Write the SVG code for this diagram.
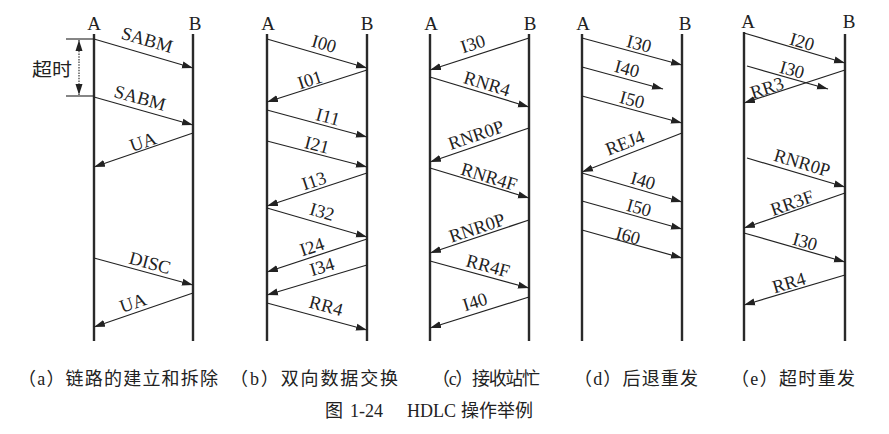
<svg xmlns="http://www.w3.org/2000/svg" width="889" height="434" viewBox="0 0 889 434">
<defs>
<marker id="ah" markerUnits="userSpaceOnUse" markerWidth="11" markerHeight="8" refX="11" refY="3.5" orient="auto-start-reverse" viewBox="0 0 11 7"><path d="M0,0 L11,3.5 L0,7 Z" fill="#222"/></marker>
<style>
.life{stroke:#2a2a2a;stroke-width:2.4;fill:none}
.msg{stroke:#222;stroke-width:1.2;fill:none;marker-end:url(#ah)}
.lbl{font-family:"Liberation Serif",serif;font-size:18.5px;fill:#222;text-anchor:middle}
.hd{font-family:"Liberation Serif",serif;font-size:19px;fill:#222;text-anchor:middle}
.cap{font-family:"Liberation Serif","Noto Sans CJK SC",sans-serif;font-size:18px;fill:#222}
</style>
</defs>
<rect width="889" height="434" fill="#fff"/>

<g id="panel-a">
<line class="life" x1="94" y1="34" x2="94" y2="341"/>
<line class="life" x1="193" y1="34" x2="193" y2="341"/>
<text class="hd" x="94" y="30">A</text>
<text class="hd" x="195" y="30">B</text>
<g id="timeout">
<line x1="66" y1="39" x2="94" y2="39" stroke="#222" stroke-width="1.1"/>
<line x1="66" y1="96" x2="94" y2="96" stroke="#222" stroke-width="1.1"/>
<line x1="79" y1="40" x2="79" y2="95" stroke="#222" stroke-width="1.1" stroke-dasharray="1.5,1.2" marker-start="url(#ah)" marker-end="url(#ah)"/>
<text class="cap" x="32" y="76" textLength="40" lengthAdjust="spacingAndGlyphs">超时</text>
</g>
</g>

<g id="panel-b">
<line class="life" x1="267" y1="34" x2="267" y2="341"/>
<line class="life" x1="367" y1="34" x2="367" y2="341"/>
<text class="hd" x="268" y="30">A</text>
<text class="hd" x="367" y="30">B</text>
</g>

<g id="panel-c">
<line class="life" x1="430" y1="34" x2="430" y2="341"/>
<line class="life" x1="529" y1="34" x2="529" y2="341"/>
<text class="hd" x="431" y="30">A</text>
<text class="hd" x="530" y="30">B</text>
</g>

<g id="panel-d">
<line class="life" x1="582" y1="34" x2="582" y2="341"/>
<line class="life" x1="682" y1="34" x2="682" y2="341"/>
<text class="hd" x="583" y="30">A</text>
<text class="hd" x="685" y="30">B</text>
</g>

<g id="panel-e">
<line class="life" x1="744" y1="32" x2="744" y2="341"/>
<line class="life" x1="845" y1="34" x2="845" y2="341"/>
<text class="hd" x="748" y="28">A</text>
<text class="hd" x="849" y="28">B</text>
</g>

<g id="connectors">
<!-- a -->
<line class="msg" x1="94" y1="39" x2="193" y2="68"/>
<line class="msg" x1="94" y1="97" x2="193" y2="125"/>
<line class="msg" x1="193" y1="133" x2="94" y2="167"/>
<line class="msg" x1="94" y1="258" x2="193" y2="285"/>
<line class="msg" x1="193" y1="293" x2="94" y2="327"/>
<!-- b -->
<line class="msg" x1="267" y1="39" x2="367" y2="68"/>
<line class="msg" x1="367" y1="70" x2="267" y2="102"/>
<line class="msg" x1="267" y1="110" x2="367" y2="137"/>
<line class="msg" x1="267" y1="141" x2="367" y2="167"/>
<line class="msg" x1="367" y1="173" x2="267" y2="206"/>
<line class="msg" x1="267" y1="208" x2="367" y2="237"/>
<line class="msg" x1="367" y1="239" x2="267" y2="272"/>
<line class="msg" x1="367" y1="265" x2="267" y2="295"/>
<line class="msg" x1="267" y1="303" x2="367" y2="330"/>
<!-- c -->
<line class="msg" x1="529" y1="38" x2="430" y2="70"/>
<line class="msg" x1="430" y1="77" x2="529" y2="107"/>
<line class="msg" x1="529" y1="128" x2="430" y2="162"/>
<line class="msg" x1="430" y1="168" x2="529" y2="198"/>
<line class="msg" x1="529" y1="220" x2="430" y2="253"/>
<line class="msg" x1="430" y1="261" x2="529" y2="288"/>
<line class="msg" x1="529" y1="297" x2="430" y2="328"/>
<!-- d -->
<line class="msg" x1="582" y1="38" x2="682" y2="65"/>
<line class="msg" x1="582" y1="67" x2="663" y2="89"/>
<line class="msg" x1="582" y1="96" x2="682" y2="123"/>
<line class="msg" x1="682" y1="133" x2="582" y2="172"/>
<line class="msg" x1="582" y1="173" x2="682" y2="202"/>
<line class="msg" x1="582" y1="201" x2="682" y2="229"/>
<line class="msg" x1="582" y1="230" x2="682" y2="258"/>
<!-- e -->
<line class="msg" x1="744" y1="33" x2="845" y2="63"/>
<line class="msg" x1="747" y1="66" x2="828" y2="89"/>
<line class="msg" x1="845" y1="70" x2="744" y2="103"/>
<line class="msg" x1="747" y1="158" x2="845" y2="187"/>
<line class="msg" x1="845" y1="193" x2="744" y2="228"/>
<line class="msg" x1="744" y1="233" x2="845" y2="262"/>
<line class="msg" x1="845" y1="275" x2="744" y2="305"/>
</g>

<g id="labels">
<!-- a -->
<text class="lbl" x="147" y="46" transform="rotate(16.3 147 40)">SABM</text>
<text class="lbl" x="140" y="104" transform="rotate(15.8 140 98)">SABM</text>
<text class="lbl" x="143" y="148" transform="rotate(-19 143 142)">UA</text>
<text class="lbl" x="150" y="269" transform="rotate(15.3 150 263)">DISC</text>
<text class="lbl" x="133" y="309" transform="rotate(-19 133 303)">UA</text>
<!-- b -->
<text class="lbl" x="324" y="50" transform="rotate(16.2 324 44)">I00</text>
<text class="lbl" x="310" y="86" transform="rotate(-17.7 310 80)">I01</text>
<text class="lbl" x="328" y="123" transform="rotate(15.1 328 117)">I11</text>
<text class="lbl" x="317" y="151" transform="rotate(14.6 317 145)">I21</text>
<text class="lbl" x="314" y="187" transform="rotate(-18.3 314 181)">I13</text>
<text class="lbl" x="322" y="218" transform="rotate(16.2 322 212)">I32</text>
<text class="lbl" x="312" y="253" transform="rotate(-18.3 312 247)">I24</text>
<text class="lbl" x="322" y="273" transform="rotate(-16.7 322 267)">I34</text>
<text class="lbl" x="326" y="312" transform="rotate(15.1 326 306)">RR4</text>
<!-- c -->
<text class="lbl" x="473" y="50" transform="rotate(-17.9 473 44)">I30</text>
<text class="lbl" x="487" y="90" transform="rotate(16.9 487 84)">RNR4</text>
<text class="lbl" x="476" y="141" transform="rotate(-19 476 135)">RNR0P</text>
<text class="lbl" x="489" y="183" transform="rotate(16.9 489 177)">RNR4F</text>
<text class="lbl" x="477" y="234" transform="rotate(-18.4 477 228)">RNR0P</text>
<text class="lbl" x="488" y="272" transform="rotate(15.3 488 266)">RR4F</text>
<text class="lbl" x="475" y="308" transform="rotate(-17.4 475 302)">I40</text>
<!-- d -->
<text class="lbl" x="639" y="50" transform="rotate(15.1 639 44)">I30</text>
<text class="lbl" x="627" y="75" transform="rotate(15.2 627 69)">I40</text>
<text class="lbl" x="632" y="106" transform="rotate(15.1 632 100)">I50</text>
<text class="lbl" x="625" y="149" transform="rotate(-21.3 625 143)">REJ4</text>
<text class="lbl" x="643" y="187" transform="rotate(16.2 643 181)">I40</text>
<text class="lbl" x="639" y="214" transform="rotate(15.6 639 208)">I50</text>
<text class="lbl" x="628" y="242" transform="rotate(15.6 628 236)">I60</text>
<!-- e -->
<text class="lbl" x="802" y="48" transform="rotate(16.5 802 42)">I20</text>
<text class="lbl" x="792" y="76" transform="rotate(15.9 792 70)">I30</text>
<text class="lbl" x="767" y="94" transform="rotate(-18.1 767 88)">RR3</text>
<text class="lbl" x="802" y="169" transform="rotate(16.5 802 163)">RNR0P</text>
<text class="lbl" x="792" y="209" transform="rotate(-19.1 792 203)">RR3F</text>
<text class="lbl" x="805" y="248" transform="rotate(16 805 242)">I30</text>
<text class="lbl" x="789" y="289" transform="rotate(-16.5 789 283)">RR4</text>
</g>

<g id="captions">
<text class="cap" x="18" y="385" textLength="200" lengthAdjust="spacing">（a）链路的建立和拆除</text>
<text class="cap" x="230" y="385" textLength="168" lengthAdjust="spacing">（b）双向数据交换</text>
<text class="cap" x="432" y="385" textLength="108" lengthAdjust="spacing">（c）接收站忙</text>
<text class="cap" x="574" y="385" textLength="124" lengthAdjust="spacing">（d）后退重发</text>
<text class="cap" x="731" y="385" textLength="124" lengthAdjust="spacing">（e）超时重发</text>
</g>

<g id="title">
<text class="cap" y="417"><tspan x="325">图</tspan><tspan x="350">1-24</tspan><tspan x="407">HDLC</tspan><tspan x="461">操作举例</tspan></text>
</g>
</svg>
